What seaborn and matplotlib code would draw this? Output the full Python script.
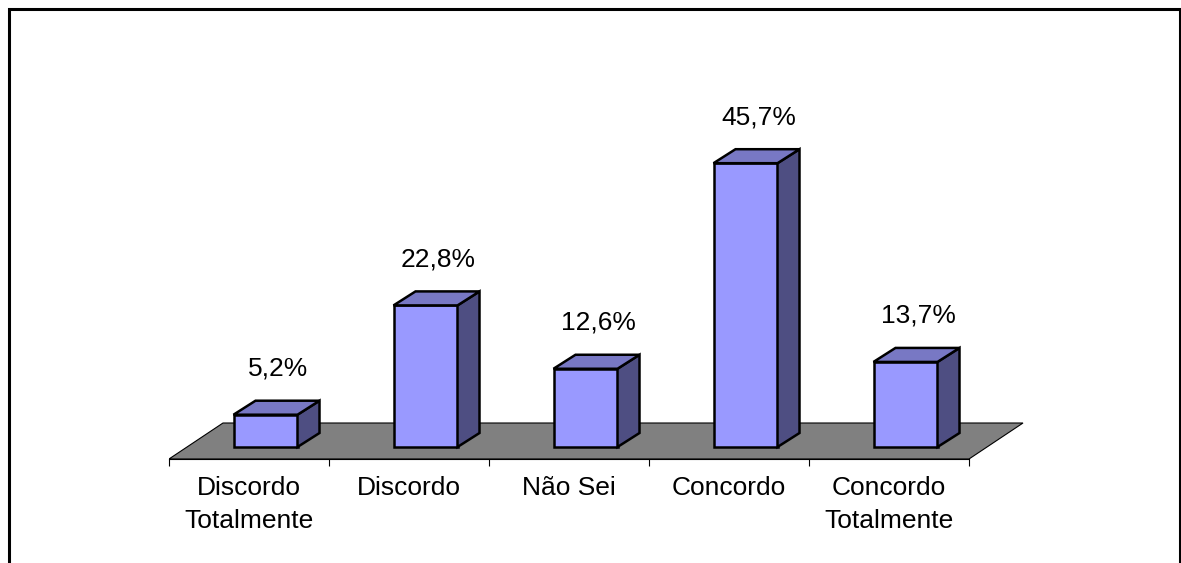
import numpy as np
import pandas as pd
import matplotlib
matplotlib.use("Agg")
import matplotlib.pyplot as plt
import seaborn as sns
from matplotlib.patches import Polygon, Rectangle

# ---- data ----
categories = ["Discordo\nTotalmente", "Discordo", "Não Sei", "Concordo", "Concordo\nTotalmente"]
values = [5.2, 22.8, 12.6, 45.7, 13.7]
value_labels = ["5,2%", "22,8%", "12,6%", "45,7%", "13,7%"]

# ---- style ----
sns.set_style("white")
plt.rcParams["font.family"] = ["Liberation Sans", "DejaVu Sans"]

FRONT = "#9999FF"
TOP = "#7878C4"
SIDE = "#4E4E82"
FLOOR = "#808080"

W, H = 1181, 563
PX_PER_CAT = 160.0
PX_PER_PCT = 6.21

fig = plt.figure(figsize=(W / 100, H / 100), dpi=100)
ax = fig.add_axes([169 / W, 93 / H, 864 / W, 410 / H])

df = pd.DataFrame({"cat": categories, "val": values})
sns.barplot(data=df, x="cat", y="val", order=categories, color=FRONT, saturation=1,
            width=0.4, edgecolor="black", linewidth=1.8, ax=ax, zorder=3)

ax.set_xlim(-0.5, -0.5 + 864 / PX_PER_CAT)
ax.set_ylim(-23 / PX_PER_PCT, 387 / PX_PER_PCT)
ax.set_xlabel("")
ax.set_ylabel("")
ax.patch.set_visible(False)

# depth offsets (in data units)
dx = 22 / PX_PER_CAT
dy = 14 / PX_PER_PCT
shift = 16.5 / PX_PER_CAT

bars = [p for p in ax.patches if isinstance(p, Rectangle)]
for p, lab in zip(bars, value_labels):
    p.set_x(p.get_x() + shift)
    x0, w, h = p.get_x(), p.get_width(), p.get_height()
    top = Polygon([(x0, h), (x0 + dx, h + dy), (x0 + w + dx, h + dy), (x0 + w, h)],
                  closed=True, facecolor=TOP, edgecolor="black", linewidth=1.8,
                  joinstyle="miter", zorder=3)
    side = Polygon([(x0 + w, 0), (x0 + w + dx, dy), (x0 + w + dx, h + dy), (x0 + w, h)],
                   closed=True, facecolor=SIDE, edgecolor="black", linewidth=1.8,
                   joinstyle="miter", zorder=3)
    ax.add_patch(side)
    ax.add_patch(top)
    ax.annotate(lab, xy=(x0 + w / 2, h), xytext=(13, 46), textcoords="offset pixels",
                ha="center", va="center", fontsize=19, color="black", zorder=5)

# floor
n = len(categories)
F = -12 / PX_PER_PCT
B = 24 / PX_PER_PCT
fdx = 54 / PX_PER_CAT
floor = Polygon([(-0.5, F), (n - 0.5, F), (n - 0.5 + fdx, B), (-0.5 + fdx, B)],
                closed=True, facecolor=FLOOR, edgecolor="black", linewidth=0.8, zorder=0.5)
ax.add_patch(floor)

# axes / ticks
for s in ["left", "top", "right"]:
    ax.spines[s].set_visible(False)
ax.spines["bottom"].set_position(("data", F))
ax.spines["bottom"].set_bounds(-0.5, n - 0.5)
ax.spines["bottom"].set_linewidth(0.8)
ax.spines["bottom"].set_color("black")
ax.set_yticks([])
ax.set_xticks(np.arange(-0.5, n, 1.0))
ax.set_xticklabels([])
ax.set_xticks(np.arange(n), labels=categories, minor=True)
ax.tick_params(axis="x", which="major", bottom=True, direction="out", length=5,
               width=0.8, color="black")
ax.tick_params(axis="x", which="minor", bottom=True, length=0, pad=12, labelsize=19,
               labelcolor="black")
for t in ax.get_xticklabels(minor=True):
    t.set_linespacing(1.5)

# outer frame
fig.add_artist(Rectangle((9 / W, -0.05), (1180 - 9) / W, (H - 9) / H + 0.05,
                         transform=fig.transFigure, fill=False, linewidth=2.2,
                         edgecolor="black"))

fig.savefig("out.png", dpi=100)
